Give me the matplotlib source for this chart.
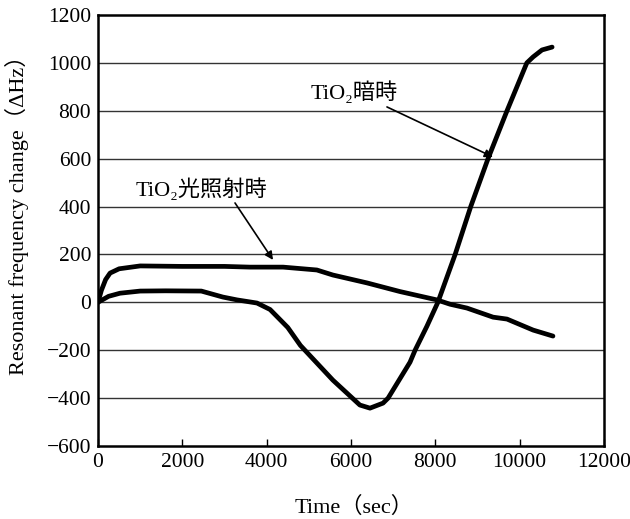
import numpy as np
import matplotlib.pyplot as plt

plt.rcParams['font.family'] = ['Liberation Serif', 'DejaVu Serif', 'Noto Sans CJK JP']

# TiO2 dark (暗時)
dark_t = [0, 100, 250, 520, 1000, 1600, 2450, 2960, 3300, 3770, 4080, 4500, 4800,
          5570, 6210, 6450, 6760, 6880, 7400, 7520, 7800, 8060, 8470, 8840, 9250,
          9700, 10170, 10320, 10530, 10770]
dark_v = [0, 10, 25, 38, 47, 48, 47, 22, 10, -3, -30, -105, -180,
          -325, -429, -442, -421, -400, -250, -200, -100, 0, 200, 400, 600,
          800, 1000, 1025, 1054, 1066]

# TiO2 under illumination (光照射時)
light_t = [0, 80, 180, 285, 500, 1000, 2000, 3000, 3600, 4390, 5190, 5570, 6380,
           7160, 8040, 8350, 8750, 9370, 9700, 10320, 10790]
light_v = [0, 50, 95, 122, 140, 152, 150, 150, 147, 147, 135, 114, 81,
           45, 10, -8, -24, -62, -70, -116, -141]

xticks = [0, 2000, 4000, 6000, 8000, 10000, 12000]
yticks = list(range(-600, 1201, 200))

fig = plt.figure(figsize=(6.3, 5.19), dpi=100)
ax = fig.add_axes((0.1556, 0.1407, 0.9587 - 0.1556, 0.9711 - 0.1407))

for y in yticks[1:-1]:
    ax.axhline(y, color='#333333', lw=1.0, zorder=1)

ax.plot(dark_t, dark_v, color='black', lw=3.4, solid_capstyle='round',
        solid_joinstyle='round', zorder=3)
ax.plot(light_t, light_v, color='black', lw=3.4, solid_capstyle='round',
        solid_joinstyle='round', zorder=3)

ax.set_xlim(0, 12000)
ax.set_ylim(-600, 1200)
ax.set_xticks(xticks)
ax.set_yticks(yticks)
ax.set_yticklabels([str(v).replace('-', '\u2212') for v in yticks])
ax.tick_params(axis='x', direction='in', length=5, width=1, labelsize=15.5, pad=5)
ax.tick_params(axis='y', length=0, labelsize=15.5, pad=5)
for s in ax.spines.values():
    s.set_linewidth(1.8)

ax.set_xlabel('Time（sec）', fontsize=16, va='center')
ax.xaxis.set_label_coords(0.506, -0.1415)
ax.set_ylabel('Resonant frequency change（ΔHz）', fontsize=16, va='center')
ax.yaxis.set_label_coords(-0.160, 0.548)

arrow = dict(arrowstyle='-|>', color='black', lw=1.2, mutation_scale=12,
             shrinkA=0, shrinkB=0)
ax.text(6071, 874, 'TiO₂暗時', fontsize=16, ha='center', va='center')
ax.annotate('', xy=(9367, 607), xytext=(6853, 816), arrowprops=arrow)
ax.text(2442, 469, 'TiO₂光照射時', fontsize=16, ha='center', va='center')
ax.annotate('', xy=(4150, 177), xytext=(3249, 415), arrowprops=arrow)

fig.savefig('out.png', dpi=100)
